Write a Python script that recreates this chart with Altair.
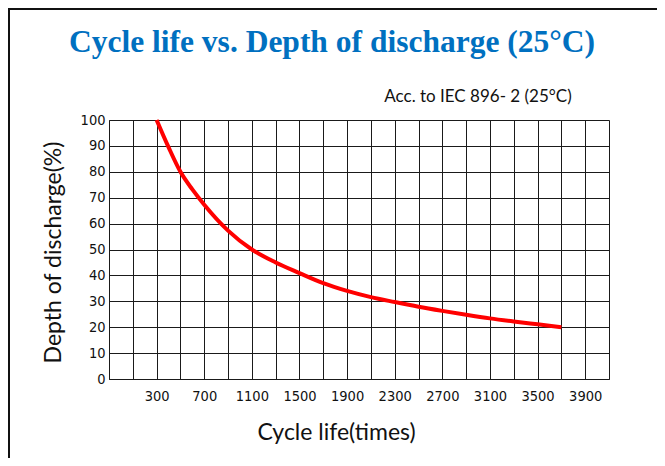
import altair as alt
import pandas as pd

cycles = [300, 400, 500, 600, 700, 900, 1100, 1300, 1500, 1700, 1900, 2100,
          2300, 2500, 2700, 2900, 3100, 3300, 3500, 3700]
dod = [100, 89.5, 80, 73.2, 67.3, 57.3, 50, 45, 40.9, 37, 34, 31.6,
       29.7, 27.9, 26.3, 24.8, 23.4, 22.2, 21.1, 20]

x_grid = list(range(-100, 4101, 200))
y_ticks = list(range(0, 101, 10))

title_text = "Cycle life vs. Depth of discharge (25°C)"
note_text = "Acc. to IEC 896- 2 (25°C)"
x_title = "Cycle life(times)"
y_title = "Depth of discharge(%)"

NARROW = "DejaVu Sans Condensed, Liberation Sans, sans-serif"
HUMAN = "Lato, Open Sans, sans-serif"

df = pd.DataFrame({"cycles": cycles, "dod": dod})

W, H = 500, 259
PL, PT, PR, PB = 101, 112, 48, 79

line = alt.Chart(df).mark_line(color="#ff0000", strokeWidth=4, interpolate="monotone").encode(
    x=alt.X("cycles:Q", scale=alt.Scale(domain=[-100, 4100], nice=False, zero=False),
            axis=alt.Axis(values=x_grid, format="d", title=x_title,
                          labelExpr="datum.value >= 300 && (datum.value - 300) % 400 == 0 ? datum.label : ''",
                          ticks=False, labelPadding=10, labelFont=NARROW,
                          labelFontSize=14.5, labelColor="#111",
                          titleFont=HUMAN, titleFontSize=23, titleFontWeight="normal",
                          titleColor="#111", titleX=227, titleY=53, titleBaseline="middle",
                          titleAlign="center", grid=True, gridColor="#1a1a1a", gridOpacity=1,
                          domainColor="#1a1a1a", labelFlush=False)),
    y=alt.Y("dod:Q", scale=alt.Scale(domain=[0, 100], nice=False),
            axis=alt.Axis(values=y_ticks, title=y_title, ticks=False, labelPadding=4,
                          labelFont=NARROW, labelFontSize=14.5, labelColor="#111",
                          titleFont=HUMAN, titleFontSize=23, titleFontWeight="normal",
                          titleColor="#111", titleX=-56, titleY=132, titleBaseline="middle",
                          titleAlign="center", titleAngle=-90,
                          grid=True, gridColor="#1a1a1a", gridOpacity=1,
                          domainColor="#1a1a1a")),
)

note = alt.Chart(pd.DataFrame({"t": [note_text]})).mark_text(
    font=HUMAN, fontSize=17, color="#111", align="center", baseline="middle"
).encode(x=alt.value(369), y=alt.value(-23), text="t:N")

title = alt.Chart(pd.DataFrame({"t": [title_text]})).mark_text(
    font="Liberation Serif", fontWeight="bold", fontSize=31.5, color="#0070c0",
    align="center", baseline="alphabetic"
).encode(x=alt.value(223), y=alt.value(-68), text="t:N")

border_top = alt.Chart(pd.DataFrame({"a": [0]})).mark_rule(color="#111", strokeWidth=2).encode(
    x=alt.value(-PL), x2=alt.value(W + PR), y=alt.value(-PT + 1))
border_left = alt.Chart(pd.DataFrame({"a": [0]})).mark_rule(color="#111", strokeWidth=2).encode(
    x=alt.value(-PL + 1), y=alt.value(-PT), y2=alt.value(H + PB))

chart = alt.layer(line, note, title, border_top, border_left).properties(
    width=W, height=H,
    autosize=alt.AutoSizeParams(type="none"),
    padding={"left": PL, "top": PT, "right": PR, "bottom": PB},
).configure_view(stroke="#1a1a1a", strokeWidth=1).configure(background="white")

chart.save("out.html", embed_options={"renderer": "svg", "actions": False})
